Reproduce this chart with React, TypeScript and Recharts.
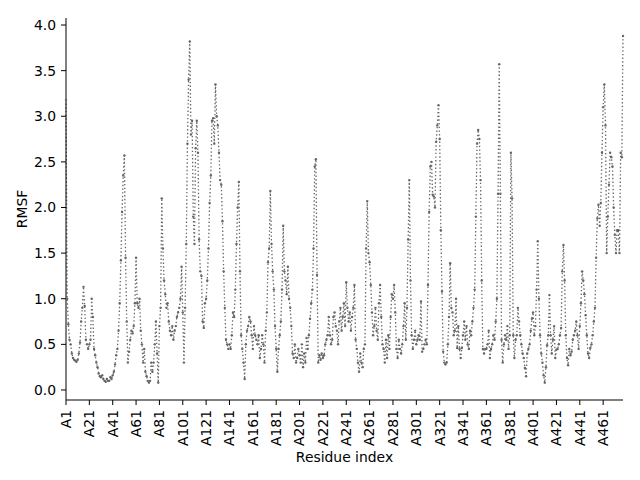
import { LineChart, Line, XAxis, YAxis, Label } from "recharts";

// RMSF per residue in blocks of 100
const rmsf001_100 = [
  3.18, 1.0, 0.72, 0.55, 0.5, 0.4, 0.35, 0.33, 0.32, 0.31, 0.33, 0.4, 0.52, 0.75, 0.9, 1.13, 0.92, 0.55, 0.5, 0.45,
  0.5, 0.55, 1.0, 0.8, 0.45, 0.38, 0.3, 0.25, 0.18, 0.15, 0.14, 0.16, 0.12, 0.1, 0.09, 0.12, 0.1, 0.1, 0.14, 0.12,
  0.16, 0.2, 0.28, 0.38, 0.45, 0.65, 0.95, 1.42, 1.95, 2.35, 2.57, 1.45, 0.75, 0.3, 0.42, 0.55, 0.65, 0.62, 0.7, 0.95,
  1.45, 0.95, 0.9, 1.0, 0.65, 0.5, 0.3, 0.45, 0.2, 0.15, 0.1, 0.08, 0.1, 0.3, 0.2, 0.3, 0.5, 0.75, 0.4, 0.08,
  0.7, 0.9, 2.1, 1.55, 1.2, 1.05, 0.9, 0.95, 0.75, 0.65, 0.6, 0.7, 0.55, 0.65, 0.7, 0.8, 0.85, 0.9, 1.0, 1.35,
];
const rmsf101_200 = [
  0.85, 0.3, 0.9, 1.6, 2.7, 3.4, 3.82, 2.8, 2.95, 1.9, 1.6, 2.65, 2.95, 2.6, 1.65, 1.3, 1.25, 0.75, 0.68, 0.95,
  1.0, 1.2, 1.55, 2.05, 2.35, 2.95, 2.98, 2.7, 3.35, 3.0, 2.9, 2.6, 2.3, 2.25, 1.85, 1.3, 0.9, 0.55, 0.5, 0.45,
  0.5, 0.45, 0.6, 0.85, 0.8, 1.1, 1.6, 2.0, 2.28, 1.3, 0.6, 0.45, 0.3, 0.12, 0.5, 0.65, 0.7, 0.8, 0.75, 0.6,
  0.45, 0.7, 0.6, 0.55, 0.5, 0.6, 0.35, 0.45, 0.6, 0.5, 0.3, 0.65, 0.85, 1.4, 1.55, 2.18, 1.6, 1.3, 1.1, 0.7,
  0.45, 0.2, 0.45, 0.6, 0.75, 1.1, 1.8, 1.3, 1.2, 1.05, 1.35, 1.0, 0.9, 0.7, 0.4, 0.35, 0.5, 0.3, 0.35, 0.45,
];
const rmsf201_300 = [
  0.38, 0.3, 0.5, 0.25, 0.4, 0.3, 0.57, 0.45, 0.6, 0.78, 0.95, 1.1, 1.55, 2.45, 2.53, 1.26, 0.3, 0.38, 0.33, 0.4,
  0.35, 0.38, 0.5, 0.55, 0.6, 0.8, 0.6, 0.5, 0.55, 0.8, 0.85, 0.7, 0.65, 0.5, 0.75, 0.9, 0.65, 0.8, 0.95, 0.7,
  1.18, 0.9, 0.75, 0.85, 0.65, 0.8, 0.9, 1.15, 0.55, 0.45, 0.3, 0.2, 0.4, 0.3, 0.25, 0.45, 0.5, 1.55, 2.07, 1.5,
  1.4, 1.15, 0.85, 0.6, 0.7, 0.9, 0.65, 0.55, 0.95, 1.15, 0.8, 0.5, 0.45, 0.3, 0.55, 0.35, 0.6, 0.45, 0.8, 1.05,
  1.0, 1.15, 0.85, 0.45, 0.35, 0.55, 0.45, 0.4, 0.5, 0.7, 0.95, 0.55, 0.9, 1.65, 2.3, 1.2, 0.6, 0.45, 0.55, 0.65,
];
const rmsf301_400 = [
  0.5, 0.55, 0.6, 0.55, 0.97, 0.42, 0.45, 0.5, 0.55, 0.5, 1.15, 1.95, 2.45, 2.5, 2.14, 2.12, 2.0, 2.72, 2.9, 3.12,
  2.75, 1.75, 1.08, 0.42, 0.3, 0.28, 0.3, 0.5, 0.8, 1.39, 0.9, 0.85, 0.6, 0.65, 1.0, 0.46, 0.7, 0.45, 0.35, 0.46,
  0.6, 0.75, 0.55, 0.7, 0.5, 0.45, 0.65, 0.6, 0.75, 0.9, 1.1, 1.9, 2.7, 2.85, 2.75, 2.3, 1.2, 0.45, 0.4, 0.45,
  0.45, 0.5, 0.65, 0.35, 0.45, 0.5, 0.6, 0.55, 0.75, 1.0, 2.15, 3.57, 2.15, 0.55, 0.3, 0.5, 0.6, 0.55, 0.7, 0.45,
  0.6, 2.6, 2.1, 0.6, 0.35, 0.55, 0.6, 0.9, 0.75, 0.6, 0.5, 0.4, 0.35, 0.24, 0.15, 0.4, 0.45, 0.5, 0.65, 0.78,
];
const rmsf401_478 = [
  0.85, 0.6, 0.7, 1.1, 1.63, 1.0, 0.6, 0.4, 0.3, 0.16, 0.08, 0.25, 0.49, 0.6, 1.04, 0.6, 0.4, 0.55, 0.7, 0.35,
  0.44, 0.45, 0.5, 0.6, 0.68, 1.3, 1.59, 1.2, 0.6, 0.35, 0.27, 0.45, 0.38, 0.42, 0.55, 0.6, 0.65, 0.75, 0.6, 0.45,
  0.7, 0.95, 1.3, 1.2, 1.05, 0.82, 0.6, 0.4, 0.35, 0.46, 0.5, 0.6, 0.75, 0.9, 1.45, 1.88, 2.03, 1.8, 2.05, 2.6,
  3.1, 3.35, 2.9, 1.5, 1.9, 2.25, 2.6, 2.55, 2.45, 2.0, 1.7, 1.5, 1.75, 1.75, 1.5, 2.6, 2.55, 3.88,
];

const rmsf = [...rmsf001_100, ...rmsf101_200, ...rmsf201_300, ...rmsf301_400, ...rmsf401_478];
const residues = rmsf.map((_, i) => `A${i + 1}`);
const yTicks = [0, 0.5, 1, 1.5, 2, 2.5, 3, 3.5, 4];

const data = residues.map((residue, i) => ({ residue, rmsf: rmsf[i] }));

const FONT = "'DejaVu Sans', sans-serif";
const FS = 13.9;

const XTick = ({ x, y, payload }: any) => (
  <text
    x={x}
    y={y}
    transform={`rotate(-90, ${x}, ${y})`}
    textAnchor="end"
    dy="0.35em"
    fill="#000"
    fontSize={FS}
    fontFamily={FONT}
  >
    {payload.value}
  </text>
);

export default function App() {
  return (
    <div style={{ position: "absolute", left: 0, top: 0, background: "#fff" }}>
      <LineChart
        width={640}
        height={480}
        data={data}
        margin={{ top: 18, right: 17, bottom: 0, left: 16 }}
      >
        <XAxis
          dataKey="residue"
          interval={19}
          height={80}
          tick={<XTick />}
          tickSize={5}
          tickMargin={5}
          axisLine={{ stroke: "#000" }}
          tickLine={{ stroke: "#000" }}
        >
          <Label
            content={(p: any) => (
              <text
                x={p.viewBox.x + p.viewBox.width / 2}
                y={p.viewBox.y + 57}
                textAnchor="middle"
                dominantBaseline="central"
                fontSize={FS}
                fontFamily={FONT}
                fill="#000"
              >
                Residue index
              </text>
            )}
          />
        </XAxis>
        <XAxis
          xAxisId="top"
          dataKey="residue"
          orientation="top"
          height={0}
          tick={false}
          tickLine={false}
          axisLine={{ stroke: "#000" }}
        />
        <YAxis
          type="number"
          domain={[-0.11, 4.077]}
          ticks={yTicks}
          allowDataOverflow
          width={50}
          tickSize={5}
          tickMargin={5}
          tickFormatter={(v: number) => v.toFixed(1)}
          tick={{ fill: "#000", fontSize: FS, fontFamily: FONT }}
          axisLine={{ stroke: "#000" }}
          tickLine={{ stroke: "#000" }}
        >
          <Label
            content={(p: any) => {
              const cx = p.viewBox.x + 6;
              const cy = p.viewBox.y + p.viewBox.height / 2;
              return (
                <text
                  x={cx}
                  y={cy}
                  transform={`rotate(-90, ${cx}, ${cy})`}
                  textAnchor="middle"
                  dominantBaseline="central"
                  fontSize={FS}
                  fontFamily={FONT}
                  fill="#000"
                >
                  RMSF
                </text>
              );
            }}
          />
        </YAxis>
        <YAxis
          yAxisId="right"
          orientation="right"
          type="number"
          domain={[0, 1]}
          width={0}
          tick={false}
          tickLine={false}
          axisLine={{ stroke: "#000" }}
        />
        <Line
          type="linear"
          dataKey="rmsf"
          stroke="#666"
          strokeWidth={1.3}
          strokeDasharray="1.4 2.3"
          dot={{ r: 1.2, fill: "#666", stroke: "none" }}
          isAnimationActive={false}
        />
      </LineChart>
    </div>
  );
}
